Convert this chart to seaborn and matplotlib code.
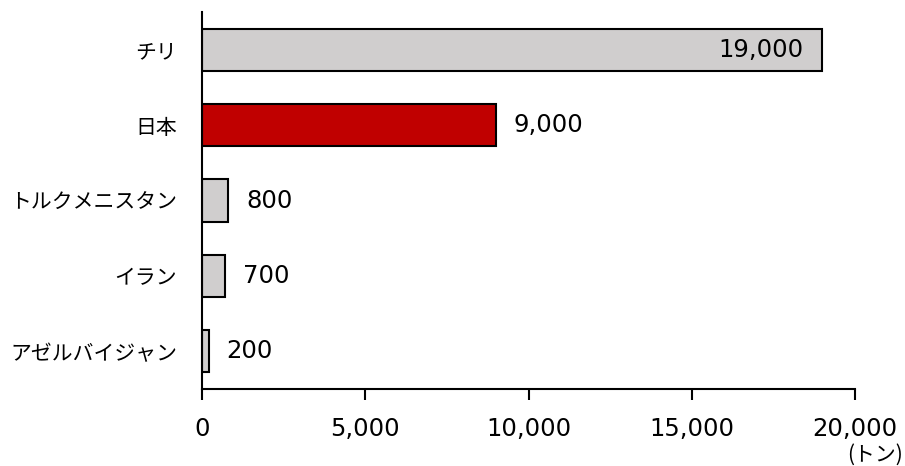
import matplotlib
matplotlib.use("Agg")
import matplotlib.pyplot as plt
import seaborn as sns
import pandas as pd

countries = ["チリ", "日本", "トルクメニスタン", "イラン", "アゼルバイジャン"]
values = [19000, 9000, 800, 700, 200]
tick_values = [0, 5000, 10000, 15000, 20000]
unit_label = "(トン)"

sns.set_theme(style="white")
plt.rcParams["font.family"] = ["Noto Sans CJK JP", "DejaVu Sans"]
plt.rcParams["text.color"] = "black"
plt.rcParams["xtick.color"] = "black"
plt.rcParams["ytick.color"] = "black"

df = pd.DataFrame({"country": countries, "value": values})
palette = {c: ("#C00000" if c == "日本" else "#D0CECE") for c in countries}

fig = plt.figure(figsize=(9.05, 4.66), dpi=100)
ax = fig.add_axes([0.2232, 0.1652, 0.7216, 0.809])

sns.barplot(data=df, x="value", y="country", hue="country", palette=palette,
            order=countries, legend=False, width=0.56, edgecolor="black",
            linewidth=1.5, saturation=1, ax=ax)

ax.set_xlim(0, 20000)
ax.set_ylim(4.5, -0.5)
ax.set_xticks(tick_values)
ax.set_xticklabels([f"{v:,}" for v in tick_values], family="DejaVu Sans", fontsize=17.5)
ax.set_xlabel("")
ax.set_ylabel("")
ax.tick_params(axis="y", length=0, labelsize=15, pad=18)
ax.tick_params(axis="x", length=8, width=1.5, color="black", direction="out",
               pad=12, bottom=True)
for side in ["top", "right"]:
    ax.spines[side].set_visible(False)
for side in ["left", "bottom"]:
    ax.spines[side].set_color("black")
    ax.spines[side].set_linewidth(1.5)

for i, v in enumerate(values):
    label = f"{v:,}"
    if v > 15000:
        ax.annotate(label, (v, i), xytext=(-14, 0), textcoords="offset points",
                    ha="right", va="center", fontsize=17.5, family="DejaVu Sans")
    else:
        ax.annotate(label, (v, i), xytext=(13, 0), textcoords="offset points",
                    ha="left", va="center", fontsize=17.5, family="DejaVu Sans")

fig.text(903 / 905, 1 - 455 / 466, unit_label, ha="right", va="center", fontsize=15)

fig.savefig("out.png", dpi=100)
